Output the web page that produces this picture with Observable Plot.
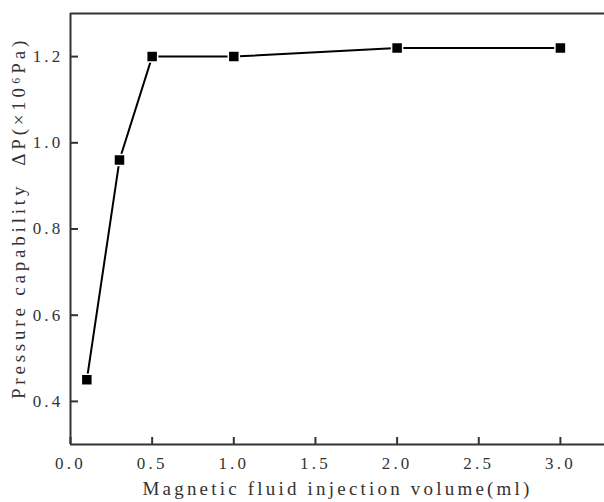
<!DOCTYPE html>
<html><head><meta charset="utf-8">
<script src="https://cdn.jsdelivr.net/npm/d3@7"></script>
<script src="https://cdn.jsdelivr.net/npm/@observablehq/plot@0.6"></script>
<style>
body{margin:0;background:#fff;}
</style>
</head><body><div id="chart"></div>
<script>
const volume = [0.1, 0.3, 0.5, 1.0, 2.0, 3.0];
const pressure = [0.45, 0.96, 1.2, 1.2, 1.22, 1.22];
const xTicks = [0, 0.5, 1.0, 1.5, 2.0, 2.5, 3.0];
const yTicks = [0.4, 0.6, 0.8, 1.0, 1.2];
const xLabel = "Magnetic fluid injection volume(ml)";
const yLabel = "Pressure capability  ΔP(×10⁶Pa)";

const data = volume.map((v, i) => ({v, p: pressure[i]}));
const fmt = d3.format(".1f");
const ff = "Liberation Serif";

const plot = Plot.plot({
  width: 604, height: 502,
  marginLeft: 70, marginTop: 13, marginBottom: 58, marginRight: 0,
  style: {fontSize: "17px", background: "#fff", fontFamily: ff},
  x: {domain: [0, 3.27]},
  y: {domain: [0.3, 1.3]},
  marks: [
    Plot.axisX({ticks: xTicks, tickFormat: fmt, tickSize: -7, tickPadding: 19, stroke: "#333", strokeWidth: 2, fill: "#333", fontSize: 17, fontFamily: ff, label: null}),
    Plot.axisY({ticks: yTicks, tickFormat: fmt, tickSize: -8, tickPadding: 15, stroke: "#333", strokeWidth: 2, fill: "#333", fontSize: 17, fontFamily: ff, label: null}),
    Plot.ruleY([0.3], {stroke: "#333", strokeWidth: 2}),
    Plot.ruleY([1.3], {stroke: "#333", strokeWidth: 2}),
    Plot.ruleX([0], {stroke: "#333", strokeWidth: 2}),
    Plot.line(data, {x: "v", y: "p", stroke: "#000", strokeWidth: 2}),
    Plot.dot(data, {x: "v", y: "p", symbol: "square", r: 6.2, fill: "#000", stroke: "#fff", strokeWidth: 1.5}),
    Plot.text([xLabel], {frameAnchor: "bottom", textAnchor: "middle", dy: 50, fontSize: 19, fontFamily: ff, fill: "#333", text: d => d}),
    Plot.text([yLabel], {frameAnchor: "left", textAnchor: "middle", dx: -52, dy: -11, rotate: -90, fontSize: 19, fontFamily: ff, fill: "#333", text: d => d})
  ]
});
document.getElementById("chart").appendChild(plot);
d3.select(plot).selectAll("text").attr("letter-spacing", "3.2px");
d3.select(plot).selectAll("[aria-label='text'] text").filter(function(){ return this.textContent.startsWith("Pressure"); }).attr("letter-spacing", "3.8px");
</script></body></html>
